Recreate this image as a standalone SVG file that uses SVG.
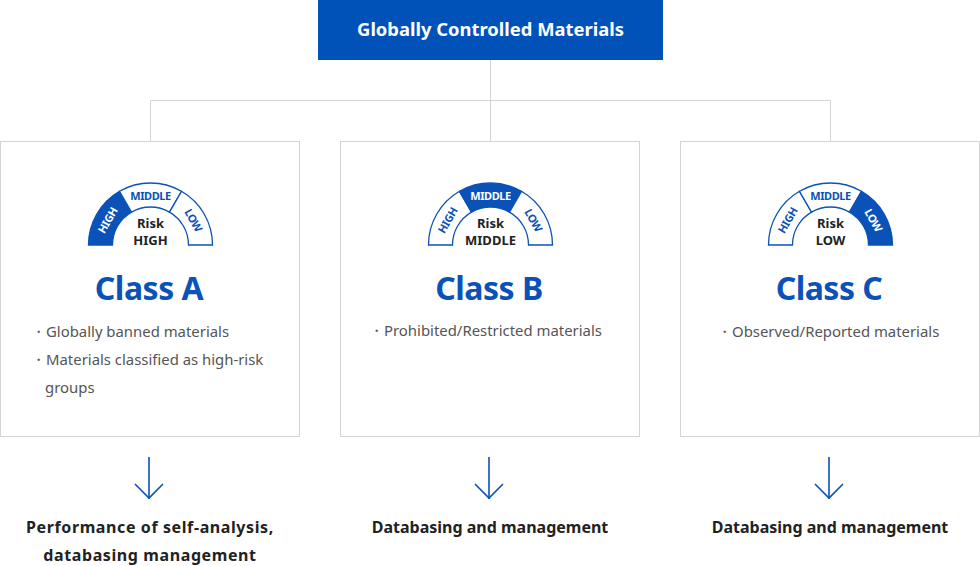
<svg xmlns="http://www.w3.org/2000/svg" width="980" height="566" viewBox="0 0 980 566">
<defs>
<style>
.box{fill:#fff;stroke:#d4d4d4;stroke-width:1}
.conn{fill:none;stroke:#d4d4d4;stroke-width:1}
.arrow{fill:none;stroke:#0a52b8;stroke-width:1.6}
.seg{stroke:#0a52b8;stroke-width:1.3;fill:#fff}
.seg.on{fill:#0a52b8}
.gl{font-family:"Noto Sans","Liberation Sans",sans-serif;font-size:11px;font-weight:700;fill:#0a52b8;text-anchor:middle;dominant-baseline:central;letter-spacing:-0.4px}
.gl.on{fill:#fff}
.risk{font-family:"Noto Sans","Liberation Sans",sans-serif;font-size:13px;font-weight:700;fill:#222;text-anchor:middle}
.title{font-family:"Noto Sans","Liberation Sans",sans-serif;font-size:32px;font-weight:700;fill:#0a52b8;text-anchor:middle;letter-spacing:-0.5px}
.bul{font-family:"Noto Sans","Liberation Sans",sans-serif;font-size:14.9px;fill:#555}
.out{font-family:"Noto Sans","Liberation Sans",sans-serif;font-size:16px;font-weight:700;fill:#222;text-anchor:middle}
.wide{letter-spacing:0.6px}
.head{font-family:"Noto Sans","Liberation Sans",sans-serif;font-size:18.4px;font-weight:700;fill:#fff;text-anchor:middle}
</style>
<path id="sH" d="M-62,0 A62,62 0 0 1 -31,-53.69 L-19,-32.91 A38,38 0 0 0 -38,0 Z"/>
<path id="sM" d="M-31,-53.69 A62,62 0 0 1 31,-53.69 L19,-32.91 A38,38 0 0 0 -19,-32.91 Z"/>
<path id="sL" d="M31,-53.69 A62,62 0 0 1 62,0 L38,0 A38,38 0 0 0 19,-32.91 Z"/>
</defs>
<rect width="980" height="566" fill="#fff"/>
<g id="connectors">
<line class="conn" x1="490.5" y1="60" x2="490.5" y2="141"/>
<polyline class="conn" points="150.5,141 150.5,100.5 830.5,100.5 830.5,141"/>
<g class="arrow">
<line x1="149" y1="457" x2="149" y2="499"/><polyline points="135,484 149,498 163,484"/>
<line x1="489" y1="457" x2="489" y2="499"/><polyline points="475,484 489,498 503,484"/>
<line x1="829" y1="457" x2="829" y2="499"/><polyline points="815,484 829,498 843,484"/>
</g>
</g>
<g id="header">
<rect x="318" y="0" width="345" height="60" fill="#0052b8"/>
<text class="head" x="490.5" y="36">Globally Controlled Materials</text>
</g>
<g id="classA">
<rect class="box" x="0.5" y="141.5" width="299" height="295"/>
<g transform="translate(150.5,245)">
<use href="#sH" class="seg on"/><use href="#sM" class="seg"/><use href="#sL" class="seg"/>
<text class="gl on" transform="translate(-43.3,-25) rotate(-60)">HIGH</text>
<text class="gl" x="0" y="-50">MIDDLE</text>
<text class="gl" transform="translate(43.3,-25) rotate(60)">LOW</text>
<text class="risk" x="0" y="-17">Risk</text>
<text class="risk" x="0" y="0">HIGH</text>
</g>
<text class="title" x="149" y="300">Class A</text>
<text class="bul" x="31" y="337">・Globally banned materials</text>
<text class="bul" x="31" y="365">・Materials classified as high-risk</text>
<text class="bul" x="45" y="393">groups</text>
</g>
<g id="classB">
<rect class="box" x="340.5" y="141.5" width="299" height="295"/>
<g transform="translate(490.5,245)">
<use href="#sH" class="seg"/><use href="#sM" class="seg on"/><use href="#sL" class="seg"/>
<text class="gl" transform="translate(-43.3,-25) rotate(-60)">HIGH</text>
<text class="gl on" x="0" y="-50">MIDDLE</text>
<text class="gl" transform="translate(43.3,-25) rotate(60)">LOW</text>
<text class="risk" x="0" y="-17">Risk</text>
<text class="risk" x="0" y="0">MIDDLE</text>
</g>
<text class="title" x="489" y="300">Class B</text>
<text class="bul" x="369" y="336">・Prohibited/Restricted materials</text>
</g>
<g id="classC">
<rect class="box" x="680.5" y="141.5" width="299" height="295"/>
<g transform="translate(830.5,245)">
<use href="#sH" class="seg"/><use href="#sM" class="seg"/><use href="#sL" class="seg on"/>
<text class="gl" transform="translate(-43.3,-25) rotate(-60)">HIGH</text>
<text class="gl" x="0" y="-50">MIDDLE</text>
<text class="gl on" transform="translate(43.3,-25) rotate(60)">LOW</text>
<text class="risk" x="0" y="-17">Risk</text>
<text class="risk" x="0" y="0">LOW</text>
</g>
<text class="title" x="829" y="300">Class C</text>
<text class="bul" x="717" y="337">・Observed/Reported materials</text>
</g>
<g id="outcomes">
<text class="out wide" x="150" y="533">Performance of self-analysis,</text>
<text class="out wide" x="150" y="561">databasing management</text>
<text class="out" x="490" y="533">Databasing and management</text>
<text class="out" x="830" y="533">Databasing and management</text>
</g>
</svg>
